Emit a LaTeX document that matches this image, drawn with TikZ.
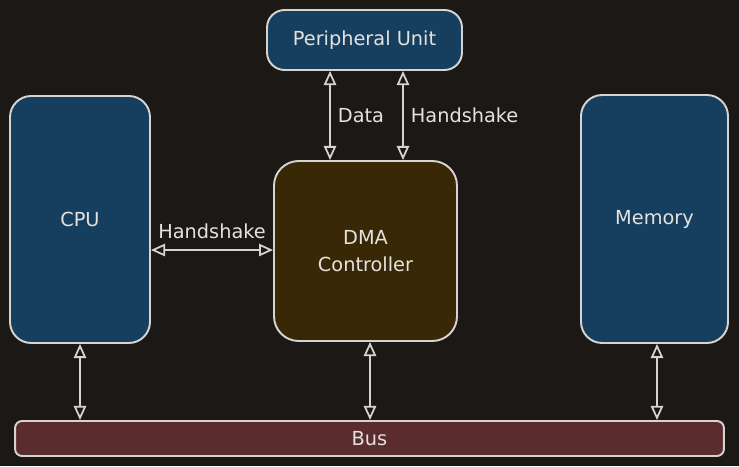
\documentclass[tikz,border=0pt]{standalone}
\usepackage{fontspec}
\setmainfont{DejaVu Sans}
\usetikzlibrary{arrows.meta}
\definecolor{sfondo}{HTML}{1C1816}
\definecolor{bordo}{HTML}{D6D4D0}
\definecolor{testo}{HTML}{E4E2DE}
\definecolor{blu}{HTML}{163F5F}
\definecolor{marrone}{HTML}{382806}
\definecolor{bordeaux}{HTML}{5B2C2D}
\begin{document}
\begin{tikzpicture}[x=0.02cm, y=-0.02cm,
    font=\fontsize{11}{15}\selectfont,
    blocco/.style={draw=bordo, line width=1.1pt, text=testo, align=center, inner sep=0pt},
    freccia/.style={draw=bordo, line width=1pt, {Triangle[open, length=8pt, width=7pt]}-{Triangle[open, length=8pt, width=7pt]}},
    etichetta/.style={text=testo, inner sep=4pt}]
    % sfondo
    \fill[sfondo] (0,0) rectangle (739,466);
    \useasboundingbox (0,0) rectangle (739,466);
    % blocchi
    \node[blocco, fill=blu, rounded corners=10pt, minimum width=3.9cm, minimum height=1.2cm] (perif) at (364.5,40) {Peripheral Unit};
    \node[blocco, fill=blu, rounded corners=12pt, minimum width=2.8cm, minimum height=4.94cm] (cpu) at (80,219.5) {CPU};
    \node[blocco, fill=marrone, rounded corners=14pt, minimum width=3.66cm, minimum height=3.6cm] (dma) at (365.5,251) {DMA\\Controller};
    \node[blocco, fill=blu, rounded corners=12pt, minimum width=2.94cm, minimum height=4.96cm] (mem) at (654.5,219) {Memory};
    \node[blocco, fill=bordeaux, rounded corners=4pt, minimum width=14.18cm, minimum height=0.7cm] (bus) at (369.5,438.5) {Bus};
    % periferica - DMA
    \draw[freccia] ([xshift=-0.69cm]perif.south) -- ([xshift=-0.71cm]dma.north) node[etichetta, midway, right] {Data};
    \draw[freccia] ([xshift=0.77cm]perif.south) -- ([xshift=0.75cm]dma.north) node[etichetta, midway, right] {Handshake};
    % CPU - DMA
    \draw[freccia] ([yshift=-0.61cm]cpu.east) -- ([yshift=0.02cm]dma.west) node[etichetta, midway, above, inner sep=6pt] {Handshake};
    % verso il bus
    \draw[freccia] (cpu.south) -- (cpu.south |- bus.north);
    \draw[freccia] ([xshift=0.09cm]dma.south) -- ([xshift=0.09cm]dma.south |- bus.north);
    \draw[freccia] ([xshift=0.05cm]mem.south) -- ([xshift=0.05cm]mem.south |- bus.north);
\end{tikzpicture}
\end{document}
